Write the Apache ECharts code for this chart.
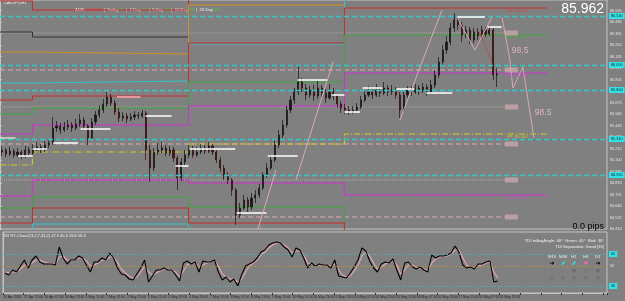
<!DOCTYPE html>
<html><head><meta charset="utf-8">
<script src="https://cdn.jsdelivr.net/npm/echarts/dist/echarts.min.js"></script>
<style>html,body{margin:0;padding:0;background:#808080;}#c{width:625px;height:301px;}</style>
</head><body><div id="c"></div><script>
// ---------- data ----------
const tickLabels = ['26 Apr 2018','27 Apr 15:00','30 Apr 07:00','30 Apr 23:00','1 May 15:00','2 May 07:00','2 May 23:00','3 May 15:00','4 May 07:00','4 May 23:00','7 May 15:00','8 May 07:00','8 May 23:00','9 May 15:00','10 May 07:00','10 May 23:00','11 May 15:00','14 May 07:00','14 May 23:00','15 May 15:00','16 May 07:00','16 May 23:00','17 May 15:00','18 May 07:00','18 May 23:00'];
// [open, close, low, high], one per 3 hourly bars
const candleOHLC = [
[85.18,85.20,85.14,85.24],[85.20,85.16,85.13,85.22],[85.16,85.19,85.14,85.23],[85.19,85.15,85.12,85.21],
[85.15,85.18,85.13,85.22],[85.18,85.14,85.11,85.20],[85.14,85.20,85.12,85.24],[85.20,85.17,85.14,85.23],
[85.17,85.22,85.15,85.26],[85.22,85.23,85.19,85.28],[85.23,85.20,85.17,85.26],[85.20,85.25,85.18,85.29],
[85.25,85.27,85.22,85.31],[85.27,85.42,85.25,85.53],[85.42,85.44,85.38,85.49],[85.44,85.40,85.36,85.47],
[85.40,85.43,85.38,85.48],[85.43,85.45,85.40,85.50],[85.45,85.42,85.38,85.48],[85.42,85.46,85.40,85.51],
[85.46,85.50,85.43,85.56],[85.50,85.44,85.40,85.53],[85.44,85.32,85.25,85.46],[85.32,85.48,85.30,85.52],
[85.48,85.55,85.45,85.59],[85.55,85.60,85.52,85.65],[85.60,85.66,85.57,85.71],[85.66,85.73,85.63,85.78],
[85.73,85.67,85.64,85.76],[85.67,85.58,85.55,85.70],[85.58,85.52,85.48,85.62],[85.52,85.54,85.49,85.58],
[85.54,85.51,85.47,85.57],[85.51,85.53,85.49,85.57],[85.53,85.55,85.50,85.59],[85.55,85.54,85.51,85.58],
[85.54,85.57,85.52,85.60],[85.57,85.20,85.10,85.59],[85.20,85.02,84.88,85.25],[85.02,85.18,84.99,85.22],
[85.18,85.20,85.15,85.27],[85.20,85.22,85.17,85.28],[85.22,85.17,85.14,85.25],[85.17,85.20,85.14,85.24],
[85.20,85.12,85.08,85.23],[85.12,84.92,84.80,85.14],[84.92,85.08,84.89,85.12],[85.08,85.15,85.05,85.20],
[85.15,85.20,85.12,85.25],[85.20,85.15,85.12,85.24],[85.15,85.18,85.13,85.23],[85.18,85.22,85.16,85.26],
[85.22,85.19,85.16,85.25],[85.19,85.24,85.17,85.28],[85.24,85.18,85.15,85.26],[85.18,85.10,85.07,85.20],
[85.10,85.02,84.98,85.13],[85.02,84.94,84.90,85.05],[84.94,84.90,84.86,84.98],[84.90,84.80,84.74,84.92],
[84.80,84.55,84.45,84.82],[84.55,84.62,84.52,84.67],[84.62,84.70,84.60,84.75],[84.70,84.63,84.58,84.73],
[84.63,84.72,84.60,84.77],[84.72,84.75,84.67,84.80],[84.75,84.82,84.72,84.86],[84.82,84.95,84.80,84.98],
[84.95,85.02,84.92,85.07],[85.02,85.10,85.00,85.15],[85.10,85.25,85.08,85.30],[85.25,85.35,85.22,85.40],
[85.35,85.45,85.32,85.50],[85.45,85.60,85.42,85.64],[85.60,85.70,85.57,85.74],[85.70,85.78,85.66,85.82],
[85.78,85.88,85.75,86.04],[85.88,85.82,85.78,85.92],[85.82,85.75,85.70,85.86],[85.75,85.80,85.72,85.84],
[85.80,85.74,85.69,85.85],[85.74,85.82,85.71,85.90],[85.82,85.77,85.73,85.85],[85.77,85.72,85.67,85.81],
[85.72,85.78,85.70,85.86],[85.78,85.74,85.70,85.82],[85.74,85.66,85.62,85.76],[85.66,85.62,85.57,85.69],
[85.62,85.60,85.56,85.66],[85.60,85.58,85.55,85.64],[85.58,85.60,85.56,85.64],[85.60,85.63,85.58,85.67],
[85.63,85.70,85.61,85.74],[85.70,85.75,85.68,85.80],[85.75,85.78,85.73,85.84],[85.78,85.75,85.71,85.81],
[85.75,85.80,85.73,85.86],[85.80,85.77,85.73,85.83],[85.77,85.82,85.75,85.88],[85.82,85.78,85.74,85.85],
[85.78,85.80,85.75,85.85],[85.80,85.75,85.71,85.83],[85.75,85.60,85.52,85.78],[85.60,85.75,85.58,85.78],
[85.75,85.80,85.72,85.84],[85.80,85.78,85.74,85.84],[85.78,85.82,85.76,85.86],[85.82,85.80,85.75,85.85],
[85.80,85.83,85.77,85.87],[85.83,85.78,85.74,85.86],[85.78,85.85,85.76,85.90],[85.85,85.95,85.82,86.00],
[85.95,86.08,85.92,86.13],[86.08,86.20,86.05,86.25],[86.20,86.28,86.16,86.34],[86.28,86.42,86.25,86.47],
[86.42,86.50,86.38,86.57],[86.50,86.45,86.40,86.54],[86.45,86.35,86.28,86.48],[86.35,86.40,86.32,86.44],
[86.40,86.30,86.26,86.43],[86.30,86.38,86.27,86.42],[86.38,86.34,86.30,86.42],[86.34,86.40,86.32,86.44],
[86.40,86.36,86.33,86.43],[86.36,86.40,86.34,86.44],[86.40,85.95,85.90,86.42],[85.95,85.96,85.83,86.02]
];
const tdiPrice = [43,41,46,44,50,56,48,56,60,54,52,52,52,51,69,58,52,56,56,60,58,51,44,54,54,58,56,63,58,48,42,41,37,36,42,48,56,34,40,46,46,48,46,46,41,35,53,55,52,54,44,55,54,54,56,44,36,39,34,37,30,41,50,52,54,58,64,66,71,73,74,73,69,66,59,68,66,58,48,53,50,52,51,51,48,56,40,39,38,43,49,56,68,65,55,48,44,52,54,53,57,46,36,53,54,49,47,49,46,44,61,58,60,60,61,63,70,64,51,48,49,47,52,52,54,55,34,35];
const tdiSignal = [44,43,44,44,47,51,51,53,56,56,54,53,52,52,59,60,56,55,56,58,58,55,50,51,53,56,56,59,59,54,47,43,40,38,39,44,50,44,41,43,45,47,47,46,44,39,45,51,53,53,49,51,53,54,55,50,42,39,37,37,34,37,44,50,53,56,61,64,68,71,73,73,71,68,63,65,65,61,53,52,51,51,51,51,50,52,46,41,39,40,45,51,60,64,60,53,47,49,52,53,55,51,42,46,51,51,49,48,47,45,53,57,59,60,60,62,66,66,58,51,49,48,50,51,53,54,44,38];
const weekStarts = [0, 25, 145, 265, 421];
const levelRedTop   = [86.69, 86.60, 86.90, null];
const levelDark     = [86.38, 86.33, null, null];
const levelOrange   = [86.18, 86.16, 86.65, 86.90];
const levelCyan     = [85.87, 85.89, 86.26, 86.90];
const levelRed2     = [85.70, 85.74, 86.27, 86.62];
const levelGreen    = [85.56, 85.62, 85.88, 86.35];
const levelMagR1    = [85.36, 85.45, 85.64, 85.97];
const levelPP       = [85.05, 85.18, 85.26, 85.36];
const levelMagS1    = [84.74, 84.90, 84.87, 84.75];
const levelGreenS2  = [84.62, 84.73, 84.63, 84.30];
const levelRedS3    = [84.47, 84.62, 84.47, 84.30];
const levelCyanLow  = [84.30, 84.46, 84.30, null];
const cyanDashLevels = [86.54, 86.05, 85.80, 85.31, 84.95];
const pinkDashLevels = [86.00, 85.26, 84.53];
const grayDotLevels  = [86.37, 85.63, 84.90];
const levelLineEnd = 388.5;
const lastPrice = 85.962;
// short horizontal marks: [fromBar, toBar, price]
const openMarks = [[62,85,85.41],[112,132,85.54],[41,60,85.27],[25,36,85.21],[14,25,85.14],[146,181,85.21],[135,145,85.04],[206,229,85.14],[182,205,84.57],[229,252,85.90],[255,265,85.75],[265,277,85.58],[279,294,85.82],[305,319,85.81],[328,348,85.77],[352,373,86.53],[375,386,86.43]];
const salmonMark = [[90,108,85.73]];
const grayMark = [[0,12,85.32]];
const trendLines = [[[198.5,84.41],[212.3,85.00]],[[227.7,84.90],[256.2,86.08]],[[307.7,85.50],[340,86.60]]];
const zigzagA = [[351.5,86.53],[365.4,86.20],[378.5,86.53]];
const zigzagB = [[386.2,86.53],[392.3,86.10],[394.6,85.82],[402.3,86.03],[410.8,85.32]];
const redDotted = [[369.2,86.37],[378.5,86.08]];
const pivotTexts = [['R3: 86.620',86.62,'#e03434'],['R2: 86.350',86.35,'#3cb43c'],['R1: 85.970',85.97,'#e040e0'],['PP: 85.360',85.36,'#d8d020'],['S1: 84.750',84.75,'#e040e0']];
const projTexts = [['98.5',86.19,393.8],['98.5',85.57,411.5]];
const tdiLevels = [62, 50, 30];

// ---------- build ----------
const candleTime = candleOHLC.map((_, i) => 3 * i + 1.5);
function stepLine(vals) {
  const pts = [];
  vals.forEach((v, w) => {
    if (v == null) { pts.push(null); return; }
    pts.push([weekStarts[w], v], [weekStarts[w + 1], v]);
  });
  return pts;
}
function segs(list) { const p = []; list.forEach(s => { p.push([s[0], s[2]], [s[1], s[2]], null); }); return p; }
function lineSegs(list) { const p = []; list.forEach(s => { p.push(s[0], s[1], null); }); return p; }
function hlines(levels) { const p = []; levels.forEach(v => { p.push([0, v], [levelLineEnd, v], null); }); return p; }

const lvl = (vals, color, type, width) => ({type:'line', xAxisIndex:0, yAxisIndex:0, data:stepLine(vals), symbol:'none', silent:true, z:2, lineStyle:{color, type:type||'solid', width:width||1}});
const FF = 'Liberation Sans';
const txt = (x, y, text, fill, size, align, fam) => ({type:'text', x, y, silent:true, style:{text, fill, fontSize:size, fontFamily:fam||FF, textAlign:align||'left'}});

const chart = echarts.init(document.getElementById('c'), null, {renderer:'canvas'});
const axisCol = '#c4c4c4';
const cols = [552, 563, 574, 586, 598];
const option = {
  animation:false,
  backgroundColor:'#808080',
  grid:[
    {left:0, top:0, width:607, height:229, show:true, borderColor:axisCol, borderWidth:1},
    {left:0, top:232, width:607, height:61, show:true, borderColor:axisCol, borderWidth:1}
  ],
  xAxis:[
    {type:'value', gridIndex:0, min:0, max:467, show:false},
    {type:'value', gridIndex:1, min:0, max:467, interval:16,
     axisLine:{show:true, lineStyle:{color:axisCol}}, axisTick:{show:true, length:2, lineStyle:{color:'#303030'}},
     splitLine:{show:false},
     axisLabel:{fontSize:3.4, color:'#1e1e1e', align:'left', margin:3, fontFamily:FF,
       formatter:v => tickLabels[Math.round(v/16)] || ''}}
  ],
  yAxis:[
    {type:'value', gridIndex:0, position:'right', min:84.41, max:86.70, interval:0.115,
     axisLine:{show:true, lineStyle:{color:axisCol}}, axisTick:{show:true, length:2, lineStyle:{color:axisCol}},
     splitLine:{show:false},
     axisLabel:{fontSize:3.8, color:'#e4e4e4', margin:3, showMaxLabel:false, fontFamily:FF, formatter:v => v.toFixed(3)}},
    {type:'value', gridIndex:1, position:'right', min:23, max:84,
     axisLine:{show:true, lineStyle:{color:axisCol}}, axisTick:{show:false}, splitLine:{show:false},
     axisLabel:{show:false}}
  ],
  series:[
    {type:'line', xAxisIndex:0, yAxisIndex:0, data:[], silent:true, z:1,
     markLine:{silent:true, symbol:'none', animation:false,
       lineStyle:{color:'#2fc9cf', type:[5,3], width:1.3},
       label:{show:true, position:'end', distance:2, fontSize:3.8, color:'#002a2a', backgroundColor:'#35e0e6', padding:[1,2], formatter:p => p.value.toFixed(3), fontFamily:FF},
       data: cyanDashLevels.map(v => ({yAxis:v}))
         .concat([{yAxis:lastPrice, lineStyle:{opacity:0}, label:{backgroundColor:'#ffffff', color:'#000', formatter:p => p.value.toFixed(3)}}])}},
    {type:'line', xAxisIndex:0, yAxisIndex:0, data:hlines(pinkDashLevels), symbol:'none', silent:true, z:1, lineStyle:{color:'#d9a9b1', type:[5,3], width:1.2}},
    {type:'line', xAxisIndex:0, yAxisIndex:0, data:hlines(grayDotLevels), symbol:'none', silent:true, z:1, lineStyle:{color:'#b4a4a6', type:[1,1], width:1.2}},
    lvl(levelRedTop, '#cc2a2a'),
    lvl(levelDark, '#333333'),
    lvl(levelOrange, '#d09020'),
    lvl(levelCyan, '#2cc4cc'),
    lvl(levelRed2, '#cc2a2a'),
    lvl(levelGreen, '#3aa83a'),
    lvl(levelMagR1, '#d030d0'),
    lvl(levelPP, '#cfc820', [6,2,1,2], 1.2),
    lvl(levelMagS1, '#d030d0', [2,1], 1.6),
    lvl(levelGreenS2, '#3aa83a'),
    lvl(levelRedS3, '#cc2a2a'),
    lvl(levelCyanLow, '#2cc4cc'),
    {type:'scatter', xAxisIndex:0, yAxisIndex:0, symbol:'rect', symbolSize:[13,5], silent:true, z:3,
     itemStyle:{color:'#c9a7ab'},
     data: pinkDashLevels.concat(grayDotLevels).map(v => [levelLineEnd + 5, v])},
    {type:'candlestick', xAxisIndex:0, yAxisIndex:0, z:4, barWidth:1.6,
     data: candleOHLC.map((c, i) => [candleTime[i], c[0], c[1], c[2], c[3]]),
     encode:{x:0, y:[1,2,3,4]},
     itemStyle:{color:'#1a1a1a', color0:'#5c1212', borderColor:'#111111', borderColor0:'#2a0a0a', borderWidth:0.7}},
    {type:'line', xAxisIndex:0, yAxisIndex:0, data:segs(openMarks), symbol:'none', silent:true, z:5, lineStyle:{color:'#ffffff', width:1.5}},
    {type:'line', xAxisIndex:0, yAxisIndex:0, data:segs(salmonMark), symbol:'none', silent:true, z:5, lineStyle:{color:'#e8989a', width:2}},
    {type:'line', xAxisIndex:0, yAxisIndex:0, data:segs(grayMark), symbol:'none', silent:true, z:5, lineStyle:{color:'#d8d8d8', width:1.5}},
    {type:'line', xAxisIndex:0, yAxisIndex:0, data:lineSegs(trendLines), symbol:'none', silent:true, z:5, lineStyle:{color:'#d8aab2', width:1}},
    {type:'line', xAxisIndex:0, yAxisIndex:0, data:zigzagA, symbol:'none', silent:true, z:5, lineStyle:{color:'#d8aab2', width:1}},
    {type:'line', xAxisIndex:0, yAxisIndex:0, data:zigzagB, symbol:'none', silent:true, z:5, lineStyle:{color:'#d8aab2', width:1}},
    {type:'line', xAxisIndex:0, yAxisIndex:0, data:redDotted, symbol:'none', silent:true, z:5, lineStyle:{color:'#e02020', width:1, type:[1,1]}},
    {type:'scatter', xAxisIndex:0, yAxisIndex:0, symbolSize:0, silent:true, z:6,
     data: pivotTexts.map(t => ({value:[390, t[1]], name:t[0], label:{color:t[2]}})),
     label:{show:true, position:'right', distance:0, offset:[0,3], fontSize:4.2, formatter:'{b}', fontFamily:FF}},
    {type:'scatter', xAxisIndex:0, yAxisIndex:0, symbolSize:0, silent:true, z:6,
     data: projTexts.map(t => ({value:[t[2], t[1]], name:t[0]})),
     label:{show:true, position:'right', distance:0, fontSize:8.5, color:'#f0c0c8', formatter:'{b}', fontFamily:FF}},
    {type:'line', xAxisIndex:1, yAxisIndex:1, data:[], silent:true,
     markLine:{silent:true, symbol:'none', animation:false,
       data:[
         {yAxis:tdiLevels[0], lineStyle:{color:'#30c8c8', type:[1,2], width:1}, label:{show:true, position:'end', distance:2, fontSize:3.8, color:'#002a2a', backgroundColor:'#35e0e6', padding:[1,2], formatter:String(tdiLevels[0])}},
         {yAxis:tdiLevels[1], lineStyle:{color:'#d09020', type:[1,2], width:1}, label:{show:true, position:'end', distance:3, fontSize:3.8, color:'#e4e4e4', formatter:String(tdiLevels[1])}},
         {yAxis:tdiLevels[2], lineStyle:{color:'#30c8c8', type:[1,2], width:1}, label:{show:true, position:'end', distance:2, fontSize:3.8, color:'#002a2a', backgroundColor:'#35e0e6', padding:[1,2], formatter:String(tdiLevels[2])}}
       ]}},
    {type:'line', xAxisIndex:1, yAxisIndex:1, data:tdiSignal.map((v,i)=>[candleTime[i], v]), symbol:'none', silent:true, z:3, lineStyle:{color:'#e2a6ae', width:1.2}},
    {type:'line', xAxisIndex:1, yAxisIndex:1, data:tdiPrice.map((v,i)=>[candleTime[i], v]), symbol:'none', silent:true, z:4, lineStyle:{color:'#000000', width:1.1}}
  ],
  graphic:[
    txt(4, 1, 'CADJPY,H1', '#f0f0f0', 4.2),
    {type:'text', x:75, y:8, silent:true, style:{
      text:'{w|ADR: }{r|145/146}{w|  |  Today }{g|37}{w|  |  1 Day }{g|55}{w|  |  5 Day }{g|58}{w|  |  10 Day }{g|72}{w|  |  20 Day }{g|63}',
      fontSize:4.2, fontFamily:FF, fill:'#f4f4f4',
      rich:{w:{fill:'#f4f4f4', fontSize:4.2, fontFamily:FF}, r:{fill:'#ff3030', fontSize:4.2, fontFamily:FF}, g:{fill:'#30e030', fontSize:4.2, fontFamily:FF}}}},
    txt(604, 2, '85.962', '#ffffff', 14, 'right'),
    txt(604, 222, '0.0 pips', '#000000', 9, 'right'),
    txt(3, 234, 'TDI RT-Clone(13,2,7,34,2) 47.9 40.6 28.6 56.6', '#f0f0f0', 4),
    txt(604, 239, 'TDI mAvgAngle: 40°  Green: 40°  Red: 30°', '#f0f0f0', 4.2, 'right'),
    txt(604, 245, 'TDI Separation: Good [15]', '#f0f0f0', 4.2, 'right'),
    ...['M15','M30','H1','H4','D1'].map((s, k) => txt(cols[k], 255, s, '#f0f0f0', 4.2, 'center')),
    ...[['➜','#000000'],['⬈','#30e0e0'],['⬈','#30e0e0'],['✚','#ff60c0'],['➜','#000000']].map((a, k) => txt(cols[k], 260.5, a[0], a[1], 6, 'center', 'DejaVu Sans')),
    ...['○','○','●','○','●'].map((s, k) => txt(cols[k], 268, s, '#6e6e6e', 5, 'center', 'DejaVu Sans')),
    ...['■','■','■','■','■'].map((s, k) => txt(cols[k], 276, s, '#747474', 4, 'center', 'DejaVu Sans'))
  ]
};
chart.setOption(option);
</script></body></html>
